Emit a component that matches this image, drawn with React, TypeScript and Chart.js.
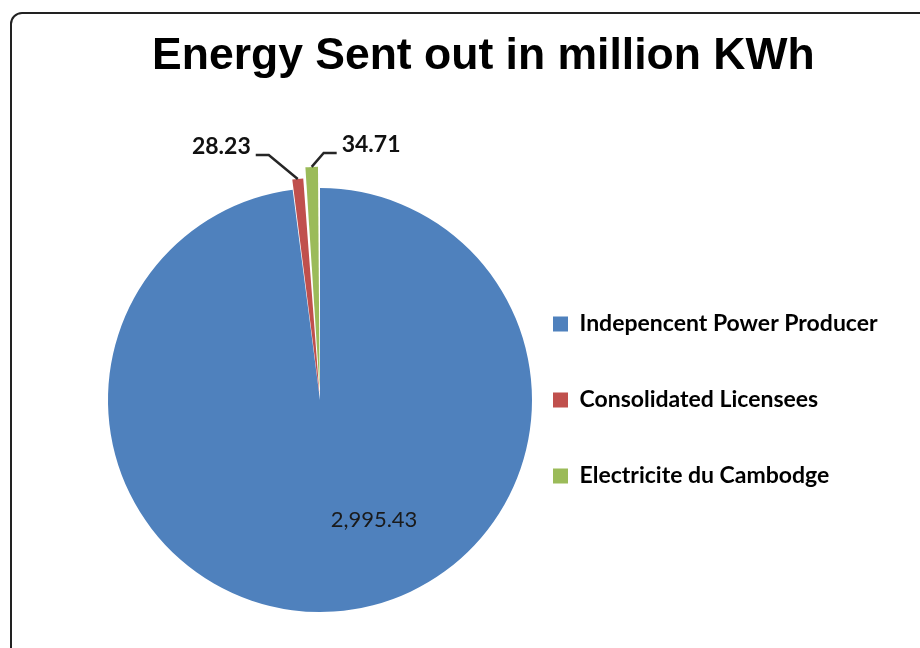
import React, { useEffect, useRef } from "react";
import { Chart, registerables } from "chart.js";

Chart.register(...registerables);

const categories = ["Indepencent Power Producer", "Consolidated Licensees", "Electricite du Cambodge"];
const energyValues = [2995.43, 28.23, 34.71];
const valueLabels = ["2,995.43", "28.23", "34.71"];
const sliceColors = ["#4F81BD", "#C0504D", "#9BBB59"];
const sliceOffsets = [0, 21, 44];
const titleText = "Energy Sent out in million KWh";

const LEGEND_FONT = "Lato, 'Open Sans', sans-serif";
const LEGEND_SIZE = 23;
const LEGEND_BOX = 15;
const LEGEND_LEFT = 553;
const PIE_CX = 320;

// effective pixel shift that Chart.js applies to an arc with a given offset
function arcShift(offset: number, circumference: number) {
  const fix = 1 - Math.sin(Math.min(Math.PI, circumference || 0));
  return (offset / 4) * (1 + fix);
}

const labelPlugin = {
  id: "sliceLabels",
  afterDatasetsDraw(chart: any) {
    const ctx = chart.ctx;
    const meta = chart.getDatasetMeta(0);
    meta.data.forEach((arc: any, i: number) => {
      const { x, y, startAngle, endAngle, outerRadius, circumference } = arc.getProps(
        ["x", "y", "startAngle", "endAngle", "outerRadius", "circumference"],
        true
      );
      const mid = (startAngle + endAngle) / 2;
      const shift = arcShift(sliceOffsets[i] || 0, circumference);
      ctx.save();
      if (i === 0) {
        ctx.font = "22px Lato, 'Open Sans', sans-serif";
        ctx.fillStyle = "#1a1a1a";
        ctx.textAlign = "center";
        ctx.textBaseline = "middle";
        ctx.fillText(valueLabels[i], x + 54, y + 120);
      } else {
        const ax = x + Math.cos(mid) * (outerRadius + shift);
        const ay = y + Math.sin(mid) * (outerRadius + shift);
        const elbow = i === 1 ? { dx: -29, dy: -24 } : { dx: 12, dy: -14 };
        const ex = ax + elbow.dx;
        const ey = ay + elbow.dy;
        const dir = i === 1 ? -1 : 1;
        const hx = ex + dir * 13;
        ctx.strokeStyle = "#262626";
        ctx.lineWidth = 2.5;
        ctx.beginPath();
        ctx.moveTo(ax, ay);
        ctx.lineTo(ex, ey);
        ctx.lineTo(hx, ey);
        ctx.stroke();
        ctx.font = "bold 23px Lato, 'Open Sans', sans-serif";
        ctx.fillStyle = "#111";
        ctx.textAlign = dir < 0 ? "right" : "left";
        ctx.textBaseline = "alphabetic";
        ctx.fillText(valueLabels[i], hx + dir * 5, ey - 1);
      }
      ctx.restore();
    });
  },
};

export default function App() {
  const canvasRef = useRef<HTMLCanvasElement | null>(null);

  useEffect(() => {
    if (!canvasRef.current) return;
    const mctx = document.createElement("canvas").getContext("2d")!;
    mctx.font = `bold ${LEGEND_SIZE}px ${LEGEND_FONT}`;
    const maxTextW = Math.max(...categories.map((c) => mctx.measureText(c).width));
    // legend box just wide enough for its content (natural width has 10px extra)
    const legendW = LEGEND_BOX + LEGEND_SIZE / 2 + maxTextW + 2;
    const chartLeft = 2 * PIE_CX - LEGEND_LEFT;
    const rightPad = 920 - (LEGEND_LEFT + legendW);

    const chart = new Chart(canvasRef.current, {
      type: "pie",
      data: {
        labels: categories,
        datasets: [
          {
            data: energyValues,
            backgroundColor: sliceColors,
            borderWidth: 0,
            offset: sliceOffsets,
            hoverOffset: 0,
            radius: 212,
            clip: false,
          } as any,
        ],
      },
      options: {
        animation: false,
        responsive: false,
        maintainAspectRatio: false,
        events: [],
        layout: { padding: { left: chartLeft, right: rightPad, top: 0, bottom: 0 } },
        plugins: {
          title: {
            display: true,
            text: titleText,
            color: "#000",
            font: { family: "'Liberation Sans', Arial, sans-serif", size: 44.5, weight: "bold" },
            padding: { top: 30, bottom: 68.6 },
          },
          legend: {
            position: "right",
            fullSize: false,
            maxWidth: legendW,
            title: { display: true, text: "", padding: 0, font: { size: 12, lineHeight: "53px" } },
            labels: {
              boxWidth: LEGEND_BOX,
              boxHeight: LEGEND_BOX,
              padding: 0,
              color: "#000",
              font: { family: LEGEND_FONT, size: LEGEND_SIZE, weight: "bold", lineHeight: "76px" },
              generateLabels: (ch: any) => {
                const items = Chart.overrides.pie.plugins.legend.labels.generateLabels(ch);
                return items.map((it: any) => ({ ...it, text: [it.text], lineWidth: 0 }));
              },
            },
          },
          tooltip: { enabled: false },
        },
      } as any,
      plugins: [labelPlugin],
    });
    return () => chart.destroy();
  }, []);

  return (
    <div style={{ position: "absolute", left: 0, top: 0, width: 920, height: 648, overflow: "hidden", background: "#fff" }}>
      <div
        style={{
          position: "absolute",
          left: 10,
          top: 12,
          width: 960,
          height: 700,
          border: "2px solid #222",
          borderRadius: 12,
          boxSizing: "border-box",
        }}
      />
      <canvas ref={canvasRef} width={920} height={648} style={{ position: "absolute", left: 0, top: 0 }} />
    </div>
  );
}
